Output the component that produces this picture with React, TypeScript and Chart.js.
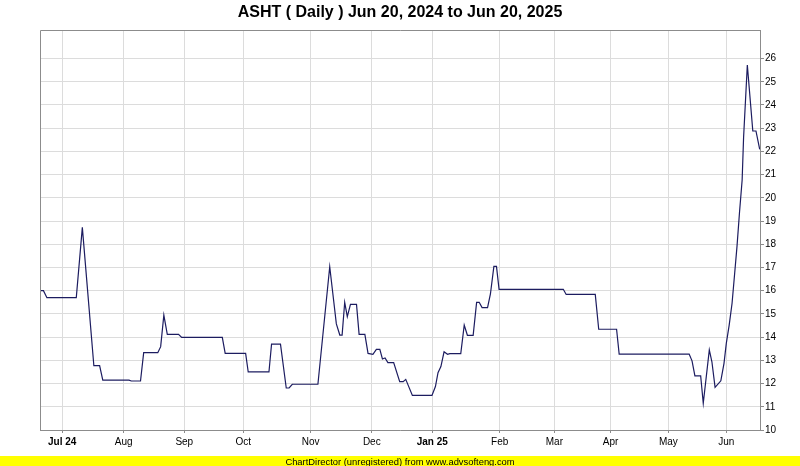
import React, { useEffect, useRef } from "react";
import { Chart, registerables } from "chart.js";

Chart.register(...registerables);

const TITLE = "ASHT ( Daily ) Jun 20, 2024 to Jun 20, 2025";
const FOOTER = "ChartDirector (unregistered) from www.advsofteng.com";
const FONT = '"Liberation Sans", Arial, sans-serif';

// trading-session position (0 = Jun 20, 2024, 250 = Jun 20, 2025)
const sessionIdx = [
  0, 1.2, 2.4, 12.6, 14.7, 18.7, 20.7, 21.8, 30.9, 31.7, 34.9, 36.0, 40.9, 41.9, 43.0, 44.2, 48.1, 49.2,
  63.3, 64.3, 71.4, 72.3, 79.5, 80.4, 83.5, 85.5, 86.5, 87.6, 96.5, 100.6, 102.9, 104.1, 104.9, 105.8,
  106.7, 107.8, 109.9, 110.8, 112.8, 113.9, 115.6, 116.8, 118.0, 118.9, 119.8, 120.8, 122.8, 124.9,
  126.1, 127.0, 129.3, 136.1, 137.3, 138.2, 139.2, 140.3, 141.5, 142.3, 146.1, 147.3, 148.4, 150.4,
  151.6, 152.5, 153.5, 155.4, 156.4, 157.6, 158.5, 159.4, 181.7, 182.7, 192.8, 194.0, 200.2, 201.1,
  225.4, 226.4, 227.4, 229.4, 230.3, 232.4, 233.3, 234.4, 236.4, 237.5, 238.3, 239.3, 240.3, 241.1,
  242.0, 242.9, 243.8, 244.3, 245.6, 247.5, 248.6, 249.9,
];
const closePrice = [
  16.0, 16.0, 15.7, 15.7, 18.73, 12.77, 12.77, 12.15, 12.15, 12.11, 12.11, 13.33, 13.33, 13.59, 14.95, 14.12, 14.12, 13.99,
  13.99, 13.3, 13.3, 12.5, 12.5, 13.7, 13.7, 11.81, 11.81, 11.97, 11.97, 17.03, 14.57, 14.09, 14.09, 15.5,
  14.88, 15.41, 15.41, 14.12, 14.12, 13.3, 13.26, 13.47, 13.47, 13.06, 13.1, 12.9, 12.9, 12.08,
  12.08, 12.18, 11.49, 11.49, 11.87, 12.47, 12.73, 13.37, 13.26, 13.29, 13.29, 14.52, 14.08, 14.08,
  15.5, 15.5, 15.27, 15.27, 15.86, 17.05, 17.05, 16.06, 16.06, 15.84, 15.84, 14.34, 14.34, 13.27,
  13.27, 12.98, 12.33, 12.33, 11.15, 13.45, 12.94, 11.84, 12.12, 12.87, 13.73, 14.52, 15.46, 16.6,
  17.89, 19.4, 20.77, 22.6, 25.72, 22.88, 22.88, 22.09,
];

const monthTickIdx = [7.7, 29.05, 50.1, 70.6, 94.0, 115.2, 136.2, 159.6, 178.6, 198.1, 218.2, 238.3];
const monthLabels = ["Jul 24", "Aug", "Sep", "Oct", "Nov", "Dec", "Jan 25", "Feb", "Mar", "Apr", "May", "Jun"];
const boldLabels = ["Jul 24", "Jan 25"];
const priceTicks = [10, 11, 12, 13, 14, 15, 16, 17, 18, 19, 20, 21, 22, 23, 24, 25, 26];

const Y_MIN = 10;
const Y_MAX = 27.23;
const X_MIN = 0;
const X_MAX = 250;

const framePlugin = {
  id: "frame",
  afterDraw(chart: any) {
    const ctx = chart.ctx;
    const a = chart.chartArea;
    ctx.save();
    ctx.strokeStyle = "#8c8c8c";
    ctx.lineWidth = 1;
    ctx.beginPath();
    ctx.moveTo(Math.round(a.left) + 0.5, Math.round(a.bottom));
    ctx.lineTo(Math.round(a.left) + 0.5, Math.round(a.top) + 0.5);
    ctx.lineTo(Math.round(a.right), Math.round(a.top) + 0.5);
    ctx.stroke();
    // title
    ctx.fillStyle = "#000";
    ctx.font = "bold 16px " + FONT;
    ctx.textAlign = "center";
    ctx.textBaseline = "alphabetic";
    ctx.fillText(TITLE, 400, 17);
    // footer band
    ctx.fillStyle = "#ffff00";
    ctx.fillRect(0, 456, chart.width, chart.height - 456);
    ctx.fillStyle = "#000";
    ctx.font = "9.4px " + FONT;
    ctx.fillText(FOOTER, 400, 465);
    ctx.restore();
  },
};

export default function App() {
  const ref = useRef<HTMLCanvasElement | null>(null);

  useEffect(() => {
    if (!ref.current) return;
    const chart = new Chart(ref.current, {
      type: "line",
      data: {
        datasets: [
          {
            data: sessionIdx.map((x, i) => ({ x, y: closePrice[i] })),
            borderColor: "#1c1c60",
            borderWidth: 1.2,
            pointRadius: 0,
            tension: 0,
            fill: false,
          },
        ],
      },
      options: {
        responsive: false,
        animation: false,
        events: [],
        layout: { padding: { left: 40, top: 30, right: 0, bottom: 0 } },
        plugins: {
          legend: { display: false },
          tooltip: { enabled: false },
          title: { display: false },
        },
        scales: {
          x: {
            type: "linear",
            position: "bottom",
            min: X_MIN,
            max: X_MAX,
            afterBuildTicks: (s: any) => {
              s.ticks = monthTickIdx.map((v) => ({ value: v }));
            },
            afterFit: (s: any) => {
              s.height = 36;
            },
            ticks: {
              autoSkip: false,
              maxRotation: 0,
              minRotation: 0,
              padding: 3,
              color: "#000",
              callback: (_v: any, i: number) => monthLabels[i],
              font: (c: any) => ({
                family: FONT,
                size: 10,
                weight: boldLabels.includes(monthLabels[c.index]) ? "bold" : "normal",
              }),
            },
            grid: { color: "#dcdcdc", tickColor: "#8c8c8c", tickLength: 3, lineWidth: 1 },
            border: { display: true, color: "#8c8c8c" },
          },
          y: {
            type: "linear",
            position: "right",
            min: Y_MIN,
            max: Y_MAX,
            afterBuildTicks: (s: any) => {
              s.ticks = priceTicks.map((v) => ({ value: v }));
            },
            afterFit: (s: any) => {
              s.width = 40;
            },
            ticks: {
              padding: 1,
              color: "#000",
              font: { family: FONT, size: 10 },
              callback: (v: any) => String(v),
            },
            grid: { color: "#dcdcdc", tickColor: "#8c8c8c", tickLength: 4, lineWidth: 1 },
            border: { display: true, color: "#8c8c8c" },
          },
        },
      },
      plugins: [framePlugin],
    } as any);
    return () => chart.destroy();
  }, []);

  return (
    <div style={{ position: "fixed", left: 0, top: 0, width: 800, height: 466, background: "#fff" }}>
      <canvas ref={ref} width={800} height={466} style={{ display: "block", width: 800, height: 466 }} />
    </div>
  );
}
